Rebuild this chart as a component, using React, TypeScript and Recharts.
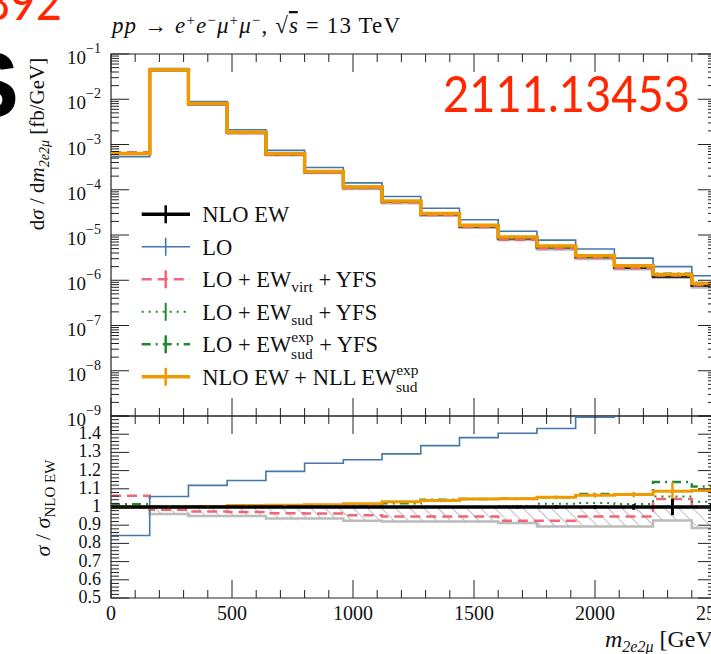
import React from 'react';
import { ComposedChart, Line, Area, XAxis, YAxis, ReferenceArea, ErrorBar, Legend } from 'recharts';

// bin edges in GeV, 160 GeV wide bins
const binEdges = [0, 160, 320, 480, 640, 800, 960, 1120, 1280, 1440, 1600, 1760, 1920, 2080, 2240, 2400, 2560];

// dsigma/dm [fb/GeV], one value per bin
const nloEW = [6.3e-4, 4.5e-2, 8.0e-3, 1.85e-3, 6.2e-4, 2.5e-4, 1.13e-4, 5.5e-5, 2.9e-5, 1.58e-5, 8.6e-6, 5.4e-6, 3.3e-6, 1.95e-6, 1.23e-6, 7.8e-7];
const lo = [5.4e-4, 4.76e-2, 8.95e-3, 2.12e-3, 7.4e-4, 3.1e-4, 1.42e-4, 7.1e-5, 3.9e-5, 2.18e-5, 1.21e-5, 7.7e-6, 4.9e-6, 3.08e-6, 2.0e-6, 1.26e-6];
const loVirt = [6.7e-4, 4.43e-2, 7.8e-3, 1.8e-3, 6.0e-4, 2.41e-4, 1.08e-4, 5.2e-5, 2.75e-5, 1.5e-5, 7.9e-6, 5.0e-6, 3.13e-6, 1.85e-6, 1.28e-6, 7.8e-7];
const loSud = [6.4e-4, 4.5e-2, 8.0e-3, 1.85e-3, 6.2e-4, 2.5e-4, 1.13e-4, 5.5e-5, 2.9e-5, 1.58e-5, 8.65e-6, 5.5e-6, 3.37e-6, 1.98e-6, 1.3e-6, 8.0e-7];
const loSudExp = [6.4e-4, 4.51e-2, 8.03e-3, 1.86e-3, 6.25e-4, 2.53e-4, 1.14e-4, 5.6e-5, 3.0e-5, 1.65e-5, 9.0e-6, 5.7e-6, 3.53e-6, 2.09e-6, 1.4e-6, 8.7e-7];
const nloNll = [6.3e-4, 4.5e-2, 8.02e-3, 1.86e-3, 6.25e-4, 2.53e-4, 1.15e-4, 5.66e-5, 3.0e-5, 1.65e-5, 9.0e-6, 5.7e-6, 3.5e-6, 2.08e-6, 1.34e-6, 8.5e-7];
const nloLow = [6.3e-4, 4.33e-2, 7.6e-3, 1.76e-3, 5.8e-4, 2.34e-4, 1.04e-4, 5.06e-5, 2.67e-5, 1.45e-5, 7.8e-6, 4.8e-6, 2.95e-6, 1.74e-6, 1.14e-6, 6.9e-7];

// ratios to NLO EW
const rNlo = [1, 1, 1, 1, 1, 1, 1, 1, 1, 1, 1, 1, 1, 1, 1, 1];
const rLo = [0.843, 1.058, 1.119, 1.146, 1.196, 1.24, 1.26, 1.292, 1.337, 1.381, 1.405, 1.431, 1.493, 1.58, 1.63, 1.62];
const rVirt = [1.062, 0.985, 0.975, 0.972, 0.966, 0.964, 0.955, 0.948, 0.948, 0.948, 0.924, 0.924, 0.948, 0.948, 1.044, 1.0];
const rSud = [1.015, 1.0, 1.0, 1.002, 1.002, 1.003, 1.003, 1.0, 1.0, 1.0, 1.005, 1.018, 1.022, 1.016, 1.058, 1.029];
const rSudExp = [1.015, 1.003, 1.004, 1.006, 1.008, 1.01, 1.013, 1.02, 1.04, 1.044, 1.045, 1.053, 1.071, 1.07, 1.137, 1.113];
const rNll = [1.0, 1.0, 1.003, 1.008, 1.01, 1.013, 1.018, 1.029, 1.036, 1.044, 1.046, 1.053, 1.064, 1.068, 1.086, 1.091];
const rLow = [0.998, 0.962, 0.95, 0.95, 0.937, 0.937, 0.924, 0.92, 0.92, 0.92, 0.912, 0.893, 0.893, 0.893, 0.926, 0.884];
const errNlo = [0.001, 0.001, 0.001, 0.001, 0.001, 0.002, 0.002, 0.003, 0.004, 0.005, 0.008, 0.01, 0.01, 0.015, 0.045, 0.02];
const errNll = [0.001, 0.001, 0.001, 0.001, 0.002, 0.002, 0.003, 0.004, 0.005, 0.006, 0.008, 0.01, 0.012, 0.015, 0.05, 0.02];

// axis ticks
const xTicks = [0, 100, 200, 300, 400, 500, 600, 700, 800, 900, 1000, 1100, 1200, 1300, 1400, 1500, 1600, 1700, 1800, 1900, 2000, 2100, 2200, 2300, 2400, 2500];
const xTickLabels = ['0', '500', '1000', '1500', '2000', '2500'];
const logDecades = [-9, -8, -7, -6, -5, -4, -3, -2, -1];
const logMultipliers = [1, 2, 3, 4, 5, 6, 7, 8, 9];
const ratioLabels = ['0.5', '0.6', '0.7', '0.8', '0.9', '1', '1.1', '1.2', '1.3', '1.4'];

const legendLabels = [
  { base: 'NLO EW' },
  { base: 'LO' },
  { base: 'LO + EW', sub: 'virt', tail: ' + YFS' },
  { base: 'LO + EW', sub: 'sud', tail: ' + YFS' },
  { base: 'LO + EW', sup: 'exp', sub: 'sud', tail: ' + YFS' },
  { base: 'NLO EW + NLL EW', sup: 'exp', sub: 'sud' },
];

const C_NLO = '#000000';
const C_LO = '#4477AA';
const C_VIRT = '#EE6677';
const C_GREEN = '#228833';
const C_NLL = '#EE9A00';
const C_GREY = '#BBBBBB';

const legendStyles = [
  { color: C_NLO, width: 3.5, dash: undefined },
  { color: C_LO, width: 1.6, dash: undefined },
  { color: C_VIRT, width: 2.5, dash: '10 6' },
  { color: C_GREEN, width: 2, dash: '2 5' },
  { color: C_GREEN, width: 2.5, dash: '9 5 2 5' },
  { color: C_NLL, width: 3.5, dash: undefined },
];

const FONT = '"Liberation Serif", "DejaVu Serif", serif';
const W = 740;
const H = 654;
const PL = 111;
const PR = 716;
const TT = 54;
const MID = 416;
const BB = 598;

const logTicks = logDecades.flatMap((d) => logMultipliers.map((m) => m * Math.pow(10, d)))
  .filter((v) => v <= 0.1000001);
const ratioTicks: number[] = [];
for (let i = 25; i <= 75; i++) ratioTicks.push(i / 50);

const stepRows = binEdges.map((m, i) => {
  const k = Math.min(i, nloEW.length - 1);
  return {
    m,
    nlo: nloEW[k], lo: lo[k], virt: loVirt[k], sud: loSud[k], sudExp: loSudExp[k], nll: nloNll[k], low: nloLow[k],
    rNlo: rNlo[k], rLo: rLo[k], rVirt: rVirt[k], rSud: rSud[k], rSudExp: rSudExp[k], rNll: rNll[k], rLow: rLow[k],
  };
});

const centerRows = nloEW.map((_, i) => ({
  m: (binEdges[i] + binEdges[i + 1]) / 2,
  rNlo: rNlo[i], eNlo: errNlo[i], rNll: rNll[i], eNll: errNll[i],
}));

function LogTick(props: any) {
  const { y, payload } = props;
  const lg = Math.log10(payload.value);
  const major = Math.abs(lg - Math.round(lg)) < 1e-6;
  const len = major ? 18 : 8;
  return (
    <g>
      <line x1={PL} x2={PL + len} y1={y} y2={y} stroke="#222" strokeWidth={1} />
      <line x1={PR - len} x2={PR} y1={y} y2={y} stroke="#222" strokeWidth={1} />
      {major && (
        <text x={101} y={y + 10} textAnchor="end" fontFamily={FONT} fontSize={19} fill="#111">
          10<tspan dy={-11} fontSize={14}>{'\u2212' + String(-Math.round(lg))}</tspan>
        </text>
      )}
    </g>
  );
}

function RatioTick(props: any) {
  const { y, payload } = props;
  const v = payload.value;
  const major = Math.abs(v * 10 - Math.round(v * 10)) < 1e-6;
  const len = major ? 18 : 8;
  const label = ratioLabels.find((s) => Math.abs(parseFloat(s) - v) < 1e-6);
  return (
    <g>
      <line x1={PL} x2={PL + len} y1={y} y2={y} stroke="#222" strokeWidth={1} />
      <line x1={PR - len} x2={PR} y1={y} y2={y} stroke="#222" strokeWidth={1} />
      {label && (
        <text x={101} y={y + 5} textAnchor="end" fontFamily={FONT} fontSize={18} fill="#111">{label}</text>
      )}
    </g>
  );
}

function XTickTop(props: any) {
  const { x, payload } = props;
  const len = payload.value % 500 === 0 ? 18 : 8;
  return (
    <g>
      <line x1={x} x2={x} y1={TT} y2={TT + len} stroke="#222" strokeWidth={1} />
      <line x1={x} x2={x} y1={MID - len} y2={MID} stroke="#222" strokeWidth={1} />
    </g>
  );
}

function XTickBottom(props: any) {
  const { x, payload } = props;
  const major = payload.value % 500 === 0;
  const len = major ? 18 : 8;
  const label = xTickLabels.find((s) => Number(s) === payload.value);
  return (
    <g>
      <line x1={x} x2={x} y1={MID} y2={MID + len} stroke="#222" strokeWidth={1} />
      <line x1={x} x2={x} y1={BB - len} y2={BB} stroke="#222" strokeWidth={1} />
      {label && (
        <text x={x} y={620} textAnchor="middle" fontFamily={FONT} fontSize={20} fill="#111">{label}</text>
      )}
    </g>
  );
}

function LegendBox() {
  return (
    <svg width={340} height={200}>
      {legendLabels.map((l, i) => {
        const s = legendStyles[i];
        const cy = 19.3 + 32.5 * i;
        return (
          <g key={i}>
            <line x1={11.7} x2={60} y1={cy} y2={cy} stroke={s.color} strokeWidth={s.width} strokeDasharray={s.dash} />
            <line x1={35.7} x2={35.7} y1={cy - 9} y2={cy + 9} stroke={s.color} strokeWidth={Math.min(s.width, 2.5)} />
            <text x={72.3} y={cy + 7.7} fontFamily={FONT} fontSize={22.5} fill="#111">
              {l.base}
              {l.sup && <tspan dy={-10} fontSize={15.5}>{l.sup}</tspan>}
              {l.sub && <tspan dx={l.sup ? -22.5 : 0} dy={l.sup ? 17 : 5} fontSize={15.5}>{l.sub}</tspan>}
              {l.tail && <tspan dx={l.sup ? 1 : 0} dy={l.sup ? -7 : -5}>{l.tail}</tspan>}
            </text>
          </g>
        );
      })}
    </svg>
  );
}

export default function App() {
  return (
    <div style={{ position: 'absolute', left: 0, top: 0, width: 711, height: 654, overflow: 'hidden', background: '#fff' }}>
      <div style={{ position: 'absolute', left: 0, top: 0 }}>
        <ComposedChart width={W} height={H} data={stepRows} margin={{ top: TT, right: W - PR, bottom: H - MID - 1, left: PL - 1 }}>
          <XAxis dataKey="m" type="number" domain={[0, 2500]} allowDataOverflow ticks={xTicks} interval={0}
            height={1} tickLine={false} axisLine={false} tick={<XTickTop />} />
          <YAxis type="number" scale="log" domain={[1e-9, 1e-1]} allowDataOverflow ticks={logTicks} interval={0}
            width={1} tickLine={false} axisLine={false} tick={<LogTick />} />
          <Line type="stepAfter" dataKey="low" stroke={C_GREY} strokeWidth={2.5} dot={false} activeDot={false} isAnimationActive={false} />
          <Line type="stepAfter" dataKey="nlo" stroke={C_NLO} strokeWidth={3} dot={false} activeDot={false} isAnimationActive={false} />
          <Line type="stepAfter" dataKey="virt" stroke={C_VIRT} strokeWidth={2.5} strokeDasharray="10 6" dot={false} activeDot={false} isAnimationActive={false} />
          <Line type="stepAfter" dataKey="sud" stroke={C_GREEN} strokeWidth={2} strokeDasharray="2 5" dot={false} activeDot={false} isAnimationActive={false} />
          <Line type="stepAfter" dataKey="sudExp" stroke={C_GREEN} strokeWidth={2.5} strokeDasharray="9 5 2 5" dot={false} activeDot={false} isAnimationActive={false} />
          <Line type="stepAfter" dataKey="lo" stroke={C_LO} strokeWidth={1.6} dot={false} activeDot={false} isAnimationActive={false} />
          <Line type="stepAfter" dataKey="nll" stroke={C_NLL} strokeWidth={3.5} dot={false} activeDot={false} isAnimationActive={false} />
          <ReferenceArea x1={0} x2={2500} y1={1e-9} y2={1e-1} fill="none" fillOpacity={0} stroke="#222" strokeWidth={1.2} ifOverflow="visible" />
          <Legend layout="vertical" align="center" verticalAlign="middle" content={() => <LegendBox />}
            wrapperStyle={{ left: 130, top: 195, width: 340, height: 200 }} />
        </ComposedChart>
      </div>
      <div style={{ position: 'absolute', left: 0, top: 0 }}>
        <ComposedChart width={W} height={H} data={stepRows} margin={{ top: MID, right: W - PR, bottom: H - BB - 1, left: PL - 1 }}>
          <defs>
            <pattern id="hatch" patternUnits="userSpaceOnUse" width={10} height={10} patternTransform="rotate(-45)">
              <line x1={0} y1={0} x2={0} y2={10} stroke="#9a9a9a" strokeWidth={1.3} />
            </pattern>
          </defs>
          <XAxis dataKey="m" type="number" domain={[0, 2500]} allowDataOverflow ticks={xTicks} interval={0}
            height={1} tickLine={false} axisLine={false} tick={<XTickBottom />} />
          <YAxis type="number" domain={[0.5, 1.5]} allowDataOverflow ticks={ratioTicks} interval={0}
            width={1} tickLine={false} axisLine={false} tick={<RatioTick />} />
          <Area type="stepAfter" dataKey={(d: any) => [d.rLow, d.rNlo]} fill="url(#hatch)" fillOpacity={1} stroke="none" isAnimationActive={false} />
          <Line type="stepAfter" dataKey="rLow" stroke={C_GREY} strokeWidth={2.5} dot={false} activeDot={false} isAnimationActive={false} />
          <Line type="stepAfter" dataKey="rVirt" stroke={C_VIRT} strokeWidth={2.5} strokeDasharray="10 6" dot={false} activeDot={false} isAnimationActive={false} />
          <Line type="stepAfter" dataKey="rSud" stroke={C_GREEN} strokeWidth={2} strokeDasharray="2 5" dot={false} activeDot={false} isAnimationActive={false} />
          <Line type="stepAfter" dataKey="rSudExp" stroke={C_GREEN} strokeWidth={2.5} strokeDasharray="9 5 2 5" dot={false} activeDot={false} isAnimationActive={false} />
          <Line type="stepAfter" dataKey="rLo" stroke={C_LO} strokeWidth={1.6} dot={false} activeDot={false} isAnimationActive={false} />
          <Line type="stepAfter" dataKey="rNll" stroke={C_NLL} strokeWidth={3} dot={false} activeDot={false} isAnimationActive={false} />
          <Line type="stepAfter" dataKey="rNlo" stroke={C_NLO} strokeWidth={3.5} dot={false} activeDot={false} isAnimationActive={false} />
          <Line data={centerRows} dataKey="rNll" stroke="none" dot={false} activeDot={false} isAnimationActive={false}>
            <ErrorBar dataKey="eNll" width={0} stroke={C_NLL} strokeWidth={2.5} direction="y" />
          </Line>
          <Line data={centerRows} dataKey="rNlo" stroke="none" dot={false} activeDot={false} isAnimationActive={false}>
            <ErrorBar dataKey="eNlo" width={0} stroke={C_NLO} strokeWidth={3} direction="y" />
          </Line>
          <ReferenceArea x1={0} x2={2500} y1={0.5} y2={1.5} fill="none" fillOpacity={0} stroke="#222" strokeWidth={1.2} ifOverflow="visible" />
        </ComposedChart>
      </div>
      <svg width={711} height={654} style={{ position: 'absolute', left: 0, top: 0, pointerEvents: 'none' }}>
        <text x={-16} y={20} fontFamily="Lato, 'Liberation Sans', sans-serif" fontSize={51} fill="#FF2600"
          textLength={78} lengthAdjust="spacingAndGlyphs">892</text>
        <text x={19} y={117} textAnchor="end" fontFamily="'Liberation Sans', sans-serif" fontWeight="bold" fontSize={93} fill="#000">S</text>
        <text x={443} y={112} fontFamily="Lato, 'Liberation Sans', sans-serif" fontSize={51} fill="#FF2600"
          textLength={247} lengthAdjust="spacingAndGlyphs">2111.13453</text>
        <text x={112} y={33} fontFamily={FONT} fontSize={23} fill="#111" textLength={288} lengthAdjust="spacing">
          <tspan fontStyle="italic">pp</tspan>
          <tspan>{' \u2192 '}</tspan>
          <tspan fontStyle="italic">e</tspan>
          <tspan dy={-8} fontSize={15}>+</tspan>
          <tspan dy={8} fontStyle="italic">e</tspan>
          <tspan dy={-8} fontSize={15}>{'\u2212'}</tspan>
          <tspan dy={8} fontStyle="italic">{'\u03bc'}</tspan>
          <tspan dy={-8} fontSize={15}>+</tspan>
          <tspan dy={8} fontStyle="italic">{'\u03bc'}</tspan>
          <tspan dy={-8} fontSize={15}>{'\u2212'}</tspan>
          <tspan dy={8}>{',  \u221a'}</tspan>
          <tspan fontStyle="italic" style={{ textDecoration: 'overline' }}>s</tspan>
          <tspan>{' = 13 TeV'}</tspan>
        </text>
        <text x={44} y={144} transform="rotate(-90 44 144)" textAnchor="middle" fontFamily={FONT} fontSize={21} fill="#111">
          d<tspan fontStyle="italic">{'\u03c3'}</tspan>
          <tspan>{' / d'}</tspan>
          <tspan fontStyle="italic">m</tspan>
          <tspan dy={5} fontSize={14} fontStyle="italic">{'2e2\u03bc'}</tspan>
          <tspan dy={-5}>{' [fb/GeV]'}</tspan>
        </text>
        <text x={50} y={508} transform="rotate(-90 50 508)" textAnchor="middle" fontFamily={FONT} fontSize={22} fill="#111">
          <tspan fontStyle="italic">{'\u03c3'}</tspan>
          <tspan>{' / '}</tspan>
          <tspan fontStyle="italic">{'\u03c3'}</tspan>
          <tspan dy={5} fontSize={15}>NLO EW</tspan>
        </text>
        <text x={605} y={647} fontFamily={FONT} fontSize={24} fill="#111">
          <tspan fontStyle="italic">m</tspan>
          <tspan dy={5} fontSize={16} fontStyle="italic">{'2e2\u03bc'}</tspan>
          <tspan dy={-5}>{' [GeV]'}</tspan>
        </text>
      </svg>
    </div>
  );
}
